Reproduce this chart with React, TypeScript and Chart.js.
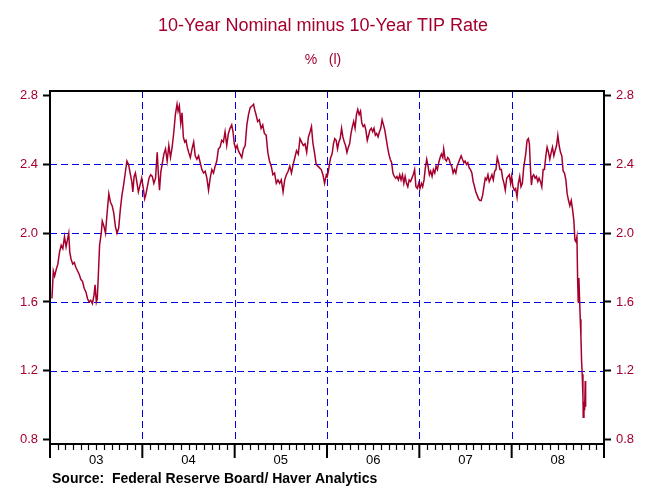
import { useEffect, useRef } from 'react';
import { Chart, registerables } from 'chart.js';

Chart.register(...registerables);

const TITLE = '10-Year Nominal minus 10-Year TIP Rate';
const SUBTITLE = '%   (l)';
const SOURCE = 'Source:  Federal Reserve Board/ Haver Analytics';

const years = [2003, 2004, 2005, 2006, 2007, 2008];
const yearLabels = ['03', '04', '05', '06', '07', '08'];
const yTicks = [0.8, 1.2, 1.6, 2.0, 2.4, 2.8];
const yGridValues = [1.2, 1.6, 2.0, 2.4];
const Y_MIN = 0.774;
const Y_MAX = 2.827;

// position within each year (fraction of year) and value (%)
const t2003 = [0.021, 0.036, 0.05, 0.068, 0.085, 0.103, 0.121, 0.139, 0.157, 0.174, 0.192, 0.203, 0.214, 0.228, 0.246, 0.263, 0.281, 0.299, 0.317, 0.335, 0.352, 0.37, 0.388, 0.406, 0.423, 0.441, 0.459, 0.477, 0.488, 0.502, 0.512, 0.523, 0.537, 0.555, 0.566, 0.584, 0.601, 0.619, 0.637, 0.655, 0.673, 0.69, 0.708, 0.726, 0.744, 0.762, 0.779, 0.797, 0.815, 0.833, 0.851, 0.868, 0.886, 0.897, 0.911, 0.925, 0.94, 0.957, 0.975, 0.993];
const v2003 = [1.62, 1.78, 1.75, 1.79, 1.82, 1.89, 1.93, 1.91, 1.98, 1.92, 1.97, 2.0, 1.89, 1.85, 1.82, 1.83, 1.8, 1.78, 1.76, 1.73, 1.72, 1.68, 1.66, 1.62, 1.6, 1.61, 1.59, 1.64, 1.7, 1.6, 1.62, 1.75, 1.93, 2.0, 2.07, 2.04, 2.0, 2.12, 2.23, 2.18, 2.16, 2.12, 2.04, 2.0, 2.03, 2.14, 2.22, 2.28, 2.35, 2.42, 2.4, 2.35, 2.3, 2.24, 2.33, 2.35, 2.3, 2.24, 2.28, 2.32];

const t2004 = [0.011, 0.025, 0.036, 0.054, 0.072, 0.09, 0.108, 0.125, 0.143, 0.161, 0.172, 0.186, 0.201, 0.215, 0.233, 0.251, 0.269, 0.287, 0.305, 0.323, 0.341, 0.358, 0.376, 0.387, 0.401, 0.416, 0.43, 0.444, 0.459, 0.473, 0.487, 0.502, 0.52, 0.538, 0.556, 0.573, 0.591, 0.609, 0.627, 0.645, 0.663, 0.681, 0.699, 0.717, 0.735, 0.753, 0.771, 0.789, 0.806, 0.824, 0.842, 0.86, 0.878, 0.896, 0.914, 0.932, 0.95, 0.968, 0.982, 0.996];
const v2004 = [2.26, 2.2, 2.22, 2.27, 2.32, 2.34, 2.33, 2.29, 2.32, 2.47, 2.36, 2.25, 2.36, 2.4, 2.46, 2.49, 2.42, 2.51, 2.44, 2.5, 2.59, 2.69, 2.75, 2.71, 2.74, 2.64, 2.7, 2.56, 2.53, 2.54, 2.5, 2.47, 2.44, 2.49, 2.53, 2.45, 2.43, 2.45, 2.41, 2.37, 2.35, 2.36, 2.32, 2.25, 2.32, 2.37, 2.35, 2.39, 2.42, 2.49, 2.5, 2.54, 2.53, 2.59, 2.51, 2.58, 2.61, 2.63, 2.59, 2.52];

const t2005 = [0.011, 0.026, 0.04, 0.059, 0.077, 0.095, 0.114, 0.132, 0.15, 0.168, 0.187, 0.205, 0.216, 0.231, 0.249, 0.267, 0.286, 0.304, 0.322, 0.341, 0.359, 0.377, 0.396, 0.414, 0.432, 0.451, 0.469, 0.487, 0.505, 0.524, 0.542, 0.56, 0.579, 0.597, 0.615, 0.634, 0.652, 0.67, 0.689, 0.707, 0.725, 0.744, 0.762, 0.78, 0.799, 0.817, 0.832, 0.846, 0.864, 0.883, 0.901, 0.919, 0.938, 0.956, 0.974, 0.993];
const v2005 = [2.49, 2.51, 2.48, 2.46, 2.44, 2.49, 2.51, 2.63, 2.69, 2.73, 2.74, 2.75, 2.72, 2.69, 2.65, 2.66, 2.61, 2.63, 2.58, 2.57, 2.47, 2.42, 2.39, 2.34, 2.35, 2.29, 2.31, 2.29, 2.31, 2.24, 2.31, 2.34, 2.36, 2.39, 2.35, 2.4, 2.44, 2.48, 2.46, 2.55, 2.53, 2.51, 2.52, 2.47, 2.56, 2.59, 2.62, 2.53, 2.47, 2.4, 2.39, 2.38, 2.37, 2.34, 2.29, 2.34];

const t2006 = [0.003, 0.018, 0.029, 0.04, 0.055, 0.07, 0.084, 0.099, 0.114, 0.128, 0.143, 0.158, 0.172, 0.187, 0.201, 0.216, 0.231, 0.245, 0.26, 0.275, 0.289, 0.304, 0.319, 0.333, 0.348, 0.363, 0.377, 0.392, 0.407, 0.421, 0.436, 0.451, 0.465, 0.48, 0.495, 0.509, 0.524, 0.538, 0.553, 0.568, 0.582, 0.597, 0.612, 0.626, 0.641, 0.656, 0.67, 0.685, 0.7, 0.714, 0.729, 0.744, 0.758, 0.773, 0.788, 0.802, 0.817, 0.832, 0.846, 0.861, 0.875, 0.89, 0.905, 0.919, 0.934, 0.949, 0.963, 0.978, 0.993];
const v2006 = [2.33, 2.37, 2.41, 2.44, 2.46, 2.52, 2.55, 2.54, 2.49, 2.53, 2.55, 2.61, 2.56, 2.53, 2.51, 2.47, 2.5, 2.52, 2.58, 2.62, 2.65, 2.61, 2.69, 2.72, 2.69, 2.71, 2.64, 2.62, 2.63, 2.6, 2.54, 2.57, 2.6, 2.61, 2.59, 2.61, 2.57, 2.58, 2.56, 2.59, 2.61, 2.66, 2.63, 2.6, 2.55, 2.5, 2.46, 2.43, 2.41, 2.35, 2.33, 2.32, 2.33, 2.31, 2.34, 2.31, 2.34, 2.29, 2.33, 2.29, 2.27, 2.31, 2.3, 2.32, 2.34, 2.37, 2.27, 2.26, 2.29];

const t2007 = [0.007, 0.022, 0.036, 0.051, 0.065, 0.08, 0.094, 0.109, 0.123, 0.138, 0.152, 0.167, 0.181, 0.196, 0.21, 0.225, 0.239, 0.254, 0.264, 0.279, 0.293, 0.308, 0.322, 0.337, 0.351, 0.366, 0.38, 0.395, 0.409, 0.424, 0.438, 0.453, 0.467, 0.482, 0.496, 0.511, 0.525, 0.54, 0.554, 0.569, 0.583, 0.598, 0.612, 0.627, 0.641, 0.656, 0.67, 0.685, 0.699, 0.714, 0.728, 0.743, 0.757, 0.772, 0.786, 0.801, 0.815, 0.83, 0.844, 0.859, 0.873, 0.888, 0.902, 0.917, 0.931, 0.946, 0.96, 0.975, 0.989];
const v2007 = [2.26, 2.29, 2.27, 2.31, 2.38, 2.43, 2.39, 2.34, 2.36, 2.33, 2.37, 2.35, 2.39, 2.37, 2.41, 2.44, 2.46, 2.44, 2.49, 2.43, 2.42, 2.44, 2.43, 2.4, 2.39, 2.35, 2.37, 2.35, 2.39, 2.41, 2.43, 2.45, 2.43, 2.41, 2.42, 2.4, 2.41, 2.38, 2.37, 2.35, 2.3, 2.27, 2.24, 2.22, 2.2, 2.19, 2.19, 2.22, 2.27, 2.32, 2.31, 2.34, 2.3, 2.32, 2.34, 2.31, 2.36, 2.37, 2.44, 2.41, 2.37, 2.37, 2.32, 2.29, 2.25, 2.32, 2.33, 2.34, 2.29];

const t2008 = [0.0, 0.014, 0.029, 0.043, 0.058, 0.072, 0.087, 0.101, 0.116, 0.13, 0.141, 0.152, 0.167, 0.181, 0.192, 0.203, 0.214, 0.225, 0.239, 0.254, 0.268, 0.283, 0.297, 0.312, 0.326, 0.341, 0.355, 0.37, 0.384, 0.399, 0.413, 0.428, 0.442, 0.457, 0.471, 0.486, 0.5, 0.514, 0.529, 0.543, 0.558, 0.572, 0.587, 0.601, 0.616, 0.63, 0.645, 0.659, 0.674, 0.685, 0.696, 0.707, 0.714, 0.721, 0.728, 0.736, 0.743, 0.75, 0.757, 0.764, 0.772, 0.775, 0.783, 0.79, 0.797, 0.801];
const v2008 = [2.33, 2.27, 2.25, 2.26, 2.21, 2.29, 2.33, 2.27, 2.29, 2.38, 2.42, 2.46, 2.54, 2.55, 2.52, 2.38, 2.28, 2.33, 2.34, 2.32, 2.33, 2.3, 2.32, 2.3, 2.27, 2.37, 2.37, 2.45, 2.5, 2.47, 2.43, 2.47, 2.5, 2.45, 2.48, 2.51, 2.57, 2.51, 2.47, 2.45, 2.36, 2.35, 2.31, 2.23, 2.19, 2.16, 2.19, 2.14, 2.07, 1.96, 1.95, 1.98, 1.74, 1.6, 1.74, 1.61, 1.5, 1.4, 1.26, 1.18, 1.05, 0.93, 1.02, 0.97, 1.14, 0.99];

const RED = '#a5002d';
const GRID_BLUE = '#0000e6';
const FONT = '"Liberation Sans", Arial, sans-serif';

function buildPoints() {
  const pos = [t2003, t2004, t2005, t2006, t2007, t2008];
  const vals = [v2003, v2004, v2005, v2006, v2007, v2008];
  const pts: { x: number; y: number }[] = [];
  years.forEach((yr, i) => {
    pos[i].forEach((t, j) => pts.push({ x: yr + t, y: vals[i][j] }));
  });
  return pts;
}

const decorPlugin = {
  id: 'decor',
  beforeDatasetsDraw(chart: any) {
    const { ctx, chartArea: a, scales } = chart;
    const xs = scales.x;
    const ys = scales.y;
    ctx.save();
    ctx.strokeStyle = GRID_BLUE;
    ctx.lineWidth = 1;
    ctx.setLineDash([7, 4]);
    for (const v of yGridValues) {
      const py = Math.round(ys.getPixelForValue(v)) + 0.5;
      ctx.beginPath();
      ctx.moveTo(a.left, py);
      ctx.lineTo(a.right, py);
      ctx.stroke();
    }
    for (const yr of years.slice(1)) {
      const px = Math.round(xs.getPixelForValue(yr)) + 0.5;
      ctx.beginPath();
      ctx.moveTo(px, a.top);
      ctx.lineTo(px, a.bottom);
      ctx.stroke();
    }
    ctx.restore();
  },
  afterDraw(chart: any) {
    const { ctx, chartArea: a, scales, width } = chart;
    const xs = scales.x;
    ctx.save();
    // frame
    ctx.strokeStyle = '#000';
    ctx.lineWidth = 2;
    ctx.strokeRect(a.left, a.top, a.right - a.left, a.bottom - a.top);
    // bottom ticks
    const lastYear = years[years.length - 1] + 1;
    for (let yr = years[0]; yr <= lastYear; yr++) {
      const px = xs.getPixelForValue(yr);
      ctx.lineWidth = 2;
      ctx.beginPath();
      ctx.moveTo(px, a.bottom);
      ctx.lineTo(px, a.bottom + 14);
      ctx.stroke();
      if (yr < lastYear) {
        for (let m = 1; m < 12; m++) {
          const mx = Math.round(xs.getPixelForValue(yr + m / 12)) + 0.5;
          ctx.lineWidth = 1.2;
          ctx.beginPath();
          ctx.moveTo(mx, a.bottom);
          ctx.lineTo(mx, a.bottom + 6);
          ctx.stroke();
        }
      }
    }
    // texts
    ctx.textAlign = 'center';
    ctx.textBaseline = 'middle';
    ctx.fillStyle = RED;
    ctx.font = `18px ${FONT}`;
    ctx.fillText(TITLE, width / 2, 26);
    ctx.font = `14px ${FONT}`;
    ctx.fillText(SUBTITLE, width / 2, 60);
    ctx.fillStyle = '#000';
    ctx.textAlign = 'left';
    ctx.font = `bold 14px ${FONT}`;
    ctx.fillText(SOURCE, 52, 479);
    ctx.restore();
  },
};

export default function App() {
  const ref = useRef<HTMLCanvasElement>(null);
  useEffect(() => {
    document.body.style.margin = '0';
    const yAxisCommon = (pos: 'left' | 'right', w: number) => ({
      type: 'linear' as const,
      position: pos,
      min: Y_MIN,
      max: Y_MAX,
      afterBuildTicks: (s: any) => {
        s.ticks = yTicks.map((v) => ({ value: v }));
      },
      afterFit: (s: any) => {
        s.width = w;
      },
      ticks: {
        color: RED,
        padding: 5,
        font: { family: FONT, size: 13 },
        callback: (v: any) => Number(v).toFixed(1),
      },
      grid: {
        drawOnChartArea: false,
        drawTicks: true,
        tickLength: 7,
        tickWidth: 2,
        tickColor: '#000',
        color: '#000',
      },
      border: { display: false },
    });
    const chart = new Chart(ref.current!, {
      type: 'line',
      data: {
        datasets: [
          {
            data: buildPoints(),
            borderColor: RED,
            borderWidth: 1.5,
            pointRadius: 0,
            tension: 0,
            yAxisID: 'y',
          },
        ],
      },
      options: {
        responsive: false,
        animation: false,
        layout: { padding: { top: 91, left: 0, right: 0, bottom: 0 } },
        plugins: { legend: { display: false }, title: { display: false }, tooltip: { enabled: false } },
        scales: {
          x: {
            type: 'linear',
            position: 'bottom',
            min: years[0],
            max: years[years.length - 1] + 1,
            afterBuildTicks: (s: any) => {
              s.ticks = years.map((y) => ({ value: y + 0.5 }));
            },
            afterFit: (s: any) => {
              s.height = 52;
            },
            ticks: {
              color: '#000',
              padding: 9,
              autoSkip: false,
              maxRotation: 0,
              font: { family: FONT, size: 13 },
              callback: (_v: any, i: number) => yearLabels[i],
            },
            grid: { display: false, drawTicks: false },
            border: { display: false },
          },
          y: yAxisCommon('left', 50),
          y2: yAxisCommon('right', 42),
        },
      } as any,
      plugins: [decorPlugin],
    });
    return () => chart.destroy();
  }, []);
  return (
    <canvas
      ref={ref}
      width={646}
      height={496}
      style={{ display: 'block', width: '646px', height: '496px' }}
    />
  );
}
